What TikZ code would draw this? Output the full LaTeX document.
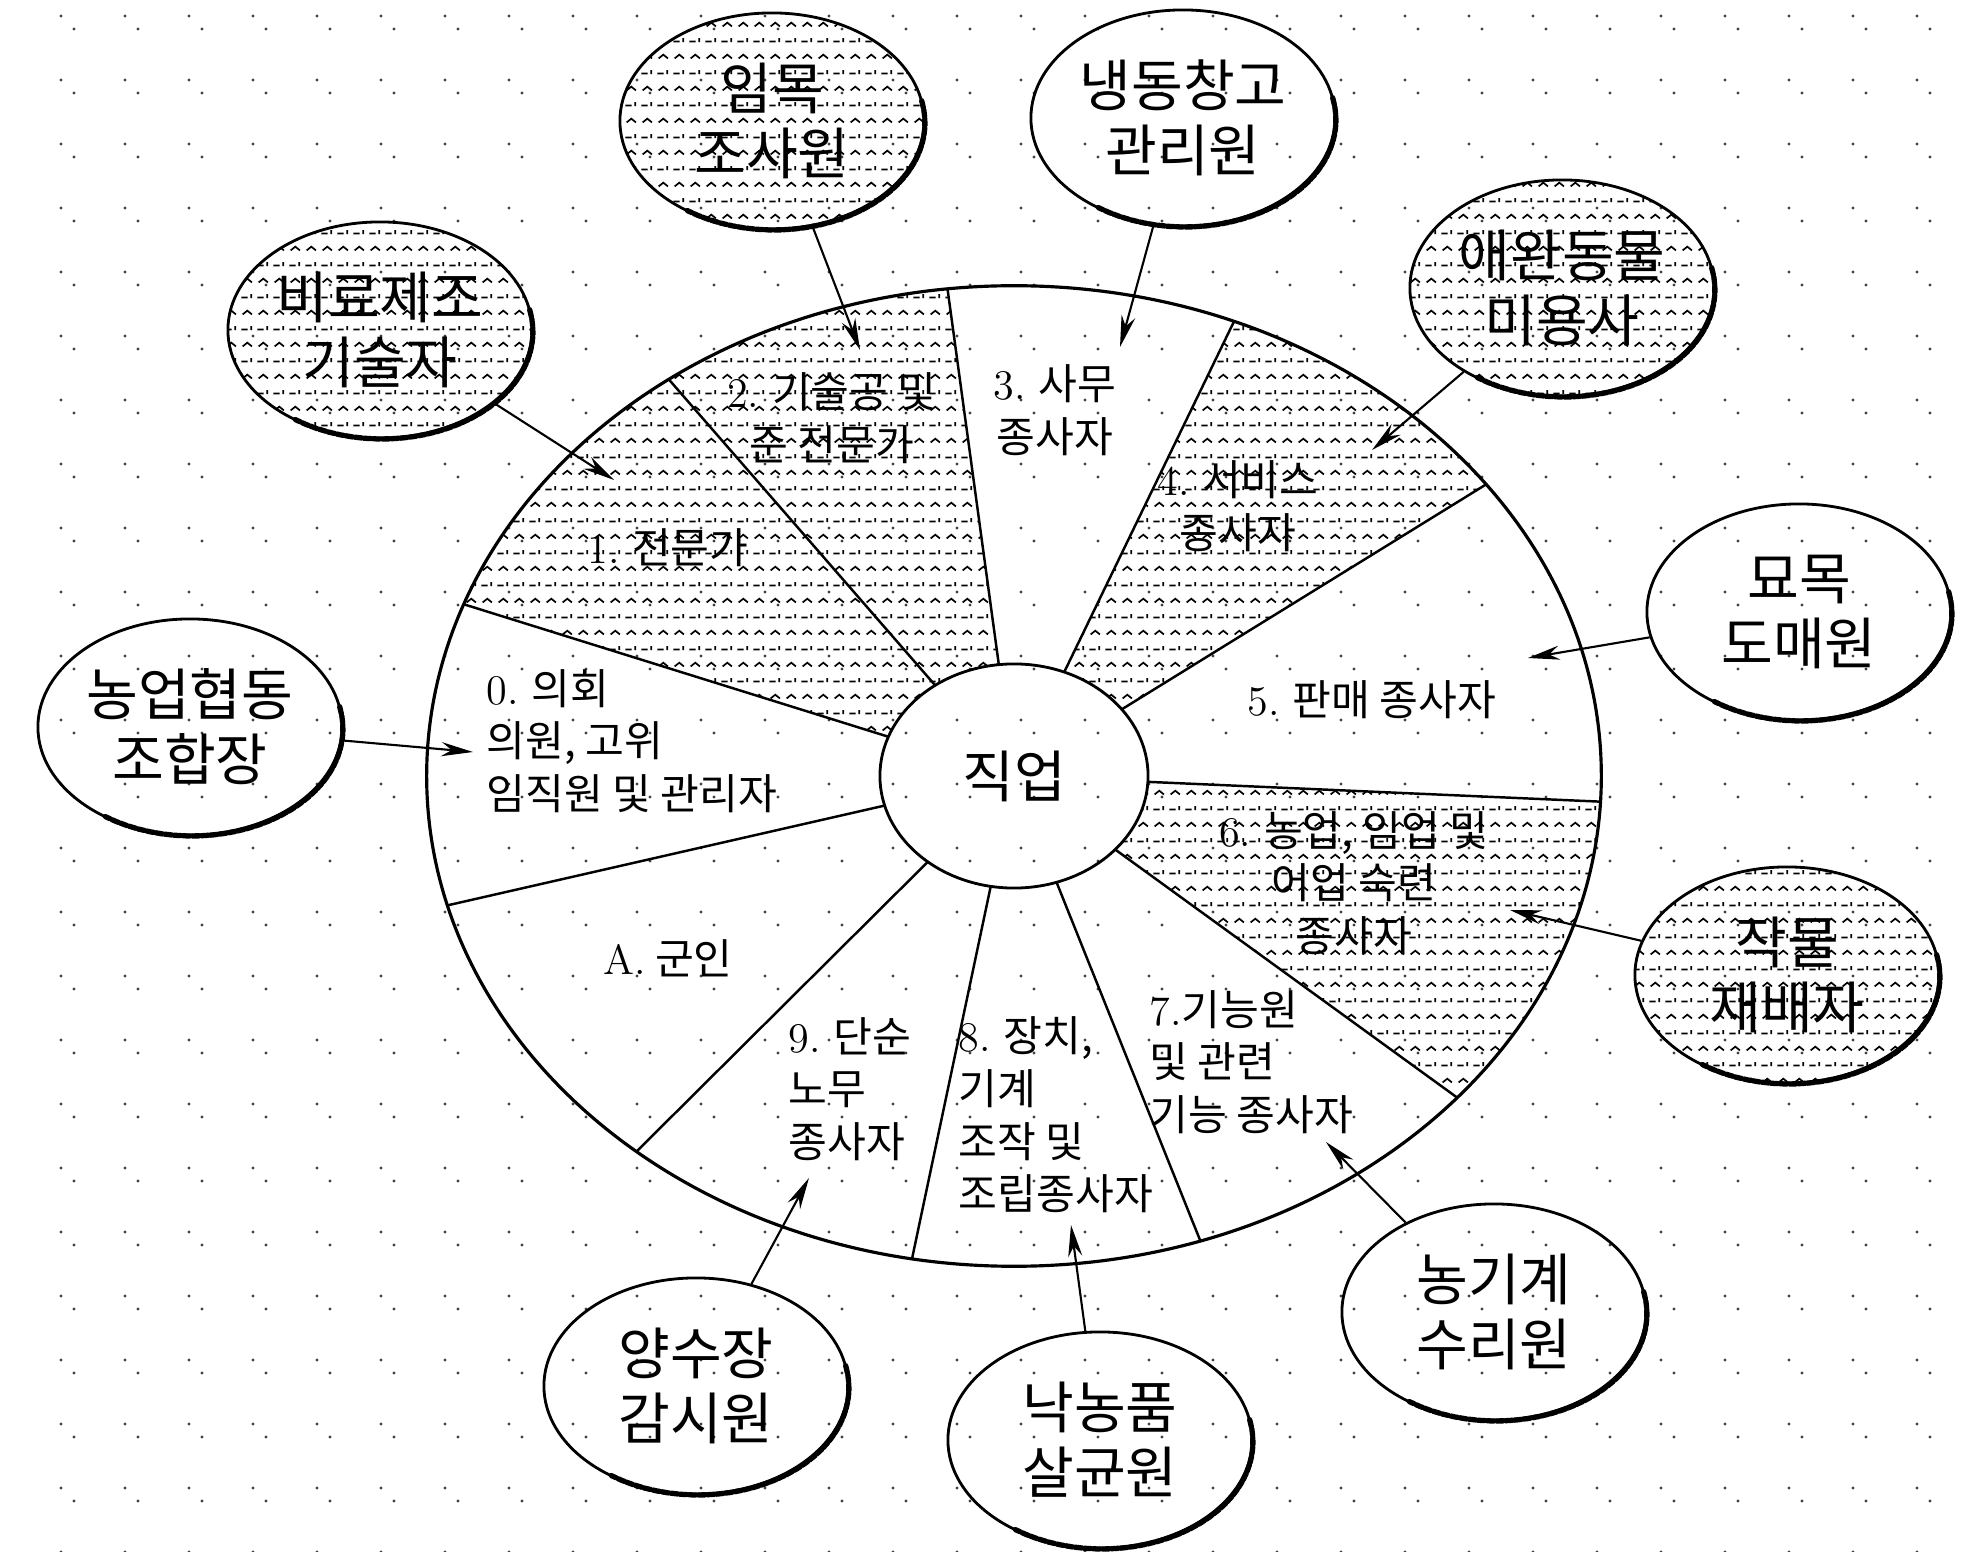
\documentclass[tikz,border=0pt]{standalone}
\usepackage{fontspec}
\newfontfamily\kr{Noto Sans CJK KR}
\usetikzlibrary{arrows.meta,shapes,patterns}
\newcommand\nm[1]{{\rmfamily #1}}
% small carets and dashes, like the screen tone of the scan
\pgfdeclarepatternformonly{agrihatch}{\pgfqpoint{0pt}{0pt}}{\pgfqpoint{4.55pt}{9.1pt}}{\pgfqpoint{4.55pt}{9.1pt}}{%
  \pgfsetlinewidth{0.5pt}
  \pgfpathmoveto{\pgfqpoint{0.8pt}{6.3pt}}
  \pgfpathlineto{\pgfqpoint{2.2pt}{7.4pt}}
  \pgfpathlineto{\pgfqpoint{3.6pt}{6.3pt}}
  \pgfusepath{stroke}
  \pgfpathmoveto{\pgfqpoint{0.4pt}{1.9pt}}
  \pgfpathlineto{\pgfqpoint{2.3pt}{1.9pt}}
  \pgfusepath{stroke}
  \pgfpathmoveto{\pgfqpoint{3.4pt}{1.7pt}}
  \pgfpathlineto{\pgfqpoint{3.4pt}{2.9pt}}
  \pgfusepath{stroke}
}
\tikzstyle{bubble}=[ellipse,draw,line width=0.8pt,minimum width=3.04cm,minimum height=2.16cm,inner xsep=-6pt,inner ysep=0pt,font=\kr\fontsize{16}{18.5}\selectfont,align=center]
\tikzstyle{hatchbubble}=[bubble,pattern=agrihatch]
\tikzstyle{rim}=[line width=1.5pt,line cap=round,dash pattern=on 2pt off 0.6pt]
\tikzstyle{divider}=[draw,line width=0.7pt]
\tikzstyle{sector}=[font=\kr\fontsize{12}{15}\selectfont,inner sep=0pt]
\tikzstyle{link}=[draw,line width=0.6pt,-{Stealth[length=9pt,width=4pt]}]
\tikzstyle{gridpt}=[fill=black!75]

\begin{document}
\begin{tikzpicture}[x=0.01cm,y=-0.01cm]
    \useasboundingbox (0,0) rectangle (1968,1552);
    % First the dotted paper
    \foreach \i in {0,...,29}
        \foreach \j in {0,...,24} {
            \fill[gridpt] (61+64*\i,16+64*\j) circle[radius=0.45pt];
            \fill[gridpt] (74+64*\i,29+64*\j) circle[radius=0.45pt];
        }
    % Screened sectors 1, 2, 4 and 6
    \foreach \a/\b in {200.5/234, 234/263.5, 292/323.5, 3/41}
        \fill[pattern=agrihatch] plot[domain=\a:\b,samples=25] ({1014+587*cos(\x)},{776+490*sin(\x)})
            -- plot[domain=\b:\a,samples=10] ({1014+134*cos(\x)},{776+112*sin(\x)}) -- cycle;
    % The wheel and its hub
    \node[ellipse,draw,line width=0.9pt,minimum width=11.74cm,minimum height=9.8cm] (wheel) at (1014,776) {};
    \node[ellipse,draw,line width=0.8pt,minimum width=2.68cm,minimum height=2.24cm,font=\kr\fontsize{16}{18}\selectfont] (job) at (1014,776) {직업};
    % Spokes between the sectors
    \foreach \a [count=\k] in {3,41,71.5,100,130,164.7,200.5,234,263.5,292,323.5} {
        \coordinate (in\k) at ({1014+134*cos(\a)},{776+112*sin(\a)});
        \coordinate (out\k) at ({1014+587*cos(\a)},{776+490*sin(\a)});
        \path[divider] (in\k) -- (out\k);
    }
    % Sector labels
    \node[sector,anchor=west,align=left] (s0) at (486,741) {\nm{0.} 의회\\의원, 고위\\임직원 및 관리자};
    \node[sector] (s1) at (668,548) {\nm{1.} 전문가};
    \node[sector,align=center] (s2) at (832,418) {\nm{2.} 기술공 및\\준 전문가};
    \node[sector,align=center] (s3) at (1055,410) {\nm{3.} 사무\\종사자};
    \node[sector,align=center] (s4) at (1238,506) {\nm{4.} 서비스\\종사자};
    \node[sector] (s5) at (1372,700) {\nm{5.} 판매 종사자};
    \node[sector,align=center] (s6) at (1354,883) {\nm{6.} 농업, 임업 및\\어업 숙련\\종사자};
    \node[sector,anchor=west,align=left] (s7) at (1149,1062) {\nm{7.}기능원\\및 관련\\기능 종사자};
    \node[sector,anchor=west,align=left] (s8) at (958,1115) {\nm{8.} 장치,\\기계\\조작 및\\조립종사자};
    \node[sector,anchor=west,align=left] (s9) at (788,1089) {\nm{9.} 단순\\노무\\종사자};
    \node[sector] (sA) at (668,958) {\nm{A.} 군인};
    % Then the example jobs round the wheel
    \foreach \pos/\name/\txt in {{(380,330)/b1/비료제조\\기술자}, {(772,121)/b2/임목\\조사원},
                                 {(1562,288)/b4/애완동물\\미용사}, {(1787,975)/b6/작물\\재배자}}
        \node[hatchbubble] (\name) at \pos {\txt};
    \foreach \pos/\name/\txt in {{(1183,118)/b3/냉동창고\\관리원}, {(1799,612)/b5/묘목\\도매원},
                                 {(1494,1312)/b7/농기계\\수리원}, {(1100,1440)/b8/낙농품\\살균원},
                                 {(696,1386)/b9/양수장\\감시원}, {(190,727)/b10/농업협동\\조합장}}
        \node[bubble] (\name) at \pos {\txt};
    % heavy lower right edge of each bubble
    \foreach \k in {1,...,10}
        \draw[rim,shift={(b\k.center)}] plot[domain=-12:125,samples=30] ({2+151*cos(\x)},{2+107*sin(\x)});
    % Arrow tips inside the sectors
    \foreach \pos/\name in {{(614,480)/t1}, {(860,350)/t2}, {(1120,347)/t3}, {(1372,450)/t4}, {(1528,658)/t5},
                            {(1510,910)/t6}, {(1326,1142)/t7}, {(1071,1225)/t8}, {(809,1178)/t9}, {(473,752)/t10}}
        \node[coordinate] (\name) at \pos {};
    \foreach \k in {1,...,10}
        \path[link] (b\k) -- (t\k);
\end{tikzpicture}
\end{document}
